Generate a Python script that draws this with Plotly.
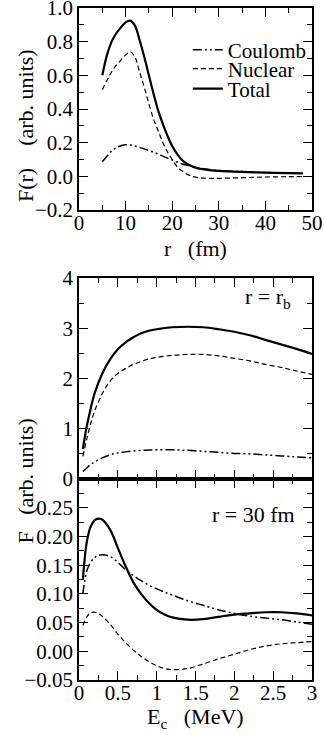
import plotly.graph_objects as go
from plotly.subplots import make_subplots

# panel 1: F(r) against r (fm)
r = [5, 6, 7, 8, 9, 10, 11, 12, 13, 14, 15, 16, 17, 18, 19, 20, 21, 22, 23, 24,
     25, 26, 28, 30, 35, 40, 45, 48]
coul_r = [0.087, 0.12, 0.15, 0.17, 0.182, 0.187, 0.186, 0.18, 0.172, 0.163, 0.153,
          0.143, 0.132, 0.12, 0.108, 0.097, 0.085, 0.075, 0.067, 0.06, 0.053, 0.048,
          0.04, 0.035, 0.028, 0.023, 0.02, 0.018]
nucl_r = [0.515, 0.57, 0.62, 0.66, 0.69, 0.72, 0.74, 0.71, 0.62, 0.53, 0.43, 0.34,
          0.27, 0.20, 0.145, 0.10, 0.06, 0.035, 0.015, 0.003, -0.005, -0.009, -0.012,
          -0.012, -0.008, -0.004, -0.002, -0.001]
tot_r = [0.60, 0.72, 0.80, 0.85, 0.885, 0.915, 0.925, 0.895, 0.81, 0.71, 0.60, 0.49,
         0.39, 0.31, 0.24, 0.18, 0.135, 0.10, 0.078, 0.063, 0.052, 0.045, 0.037,
         0.032, 0.026, 0.022, 0.019, 0.017]

# panel 2: F at r = r_b against E_c (MeV)
ec_b = [0.05, 0.1, 0.15, 0.2, 0.3, 0.4, 0.5, 0.6, 0.7, 0.8, 0.9, 1.0, 1.2, 1.4, 1.6,
        1.8, 2.0, 2.2, 2.4, 2.6, 2.8, 3.0]
coul_b = [0.15, 0.22, 0.29, 0.34, 0.42, 0.48, 0.52, 0.54, 0.56, 0.57, 0.575, 0.58,
          0.58, 0.57, 0.55, 0.53, 0.51, 0.50, 0.48, 0.46, 0.44, 0.42]
nucl_b = [0.45, 0.8, 1.1, 1.35, 1.7, 1.95, 2.1, 2.2, 2.28, 2.34, 2.39, 2.42, 2.46,
          2.48, 2.48, 2.45, 2.40, 2.35, 2.28, 2.22, 2.15, 2.08]
tot_b = [0.6, 1.05, 1.4, 1.7, 2.1, 2.38, 2.58, 2.72, 2.82, 2.9, 2.95, 2.98, 3.02,
         3.03, 3.02, 2.98, 2.93, 2.86, 2.77, 2.68, 2.59, 2.49]

# panel 3: F at r = 30 fm against E_c (MeV)
ec_30 = [0.05, 0.1, 0.15, 0.2, 0.25, 0.3, 0.4, 0.5, 0.6, 0.7, 0.8, 0.9, 1.0, 1.1,
         1.2, 1.4, 1.6, 1.8, 2.0, 2.2, 2.4, 2.6, 2.8, 3.0]
coul_30 = [0.10, 0.14, 0.155, 0.163, 0.167, 0.168, 0.165, 0.155, 0.142, 0.132, 0.123,
           0.115, 0.109, 0.103, 0.098, 0.088, 0.08, 0.072, 0.066, 0.061, 0.058,
           0.055, 0.051, 0.047]
nucl_30 = [0.045, 0.06, 0.067, 0.068, 0.066, 0.061, 0.047, 0.03, 0.015, 0.002, -0.009,
           -0.018, -0.025, -0.03, -0.032, -0.03, -0.022, -0.013, -0.005, 0.003, 0.009,
           0.013, 0.015, 0.017]
tot_30 = [0.125, 0.19, 0.217, 0.228, 0.231, 0.229, 0.212, 0.18, 0.148, 0.12, 0.1,
          0.084, 0.072, 0.064, 0.059, 0.055, 0.056, 0.06, 0.064, 0.066, 0.068, 0.068,
          0.066, 0.0625]

FONT = "Liberation Serif"
coul_line = dict(color="black", width=1.5, dash="9px,3px,2px,3px,2px,3px")
nucl_line = dict(color="black", width=1.2, dash="5px,3px")
tot_line = dict(color="black", width=2.2)

fig = make_subplots(rows=3, cols=1)

panels = [(r, coul_r, nucl_r, tot_r), (ec_b, coul_b, nucl_b, tot_b),
          (ec_30, coul_30, nucl_30, tot_30)]
for i, (x, c, n, t) in enumerate(panels):
    show = i == 0
    fig.add_trace(go.Scatter(x=x, y=c, mode="lines", line=coul_line, name="Coulomb",
                             showlegend=show, legend="legend", line_shape="spline"),
                  row=i + 1, col=1)
    fig.add_trace(go.Scatter(x=x, y=n, mode="lines", line=nucl_line, name="Nuclear",
                             showlegend=show, legend="legend2", line_shape="spline"),
                  row=i + 1, col=1)
    fig.add_trace(go.Scatter(x=x, y=t, mode="lines", line=tot_line, name="Total",
                             showlegend=show, legend="legend3", line_shape="spline"),
                  row=i + 1, col=1)

axis_style = dict(
    showline=True, linecolor="black", linewidth=1.5, mirror="ticks",
    ticks="inside", ticklen=9, tickwidth=1.3, tickcolor="black",
    showgrid=False, zeroline=False, automargin=False, ticklabeloverflow="allow",
    tickfont=dict(family=FONT, size=21, color="black"),
)

fig.update_xaxes(**axis_style, ticklabelstandoff=-7)
fig.update_yaxes(**axis_style)

fig.update_layout(
    xaxis=dict(range=[0, 50], dtick=10, minor=dict(dtick=5, ticklen=5, ticks="inside")),
    yaxis=dict(domain=[0.6994, 1.0], range=[-0.2, 1.0], dtick=0.2, tickformat=".1f",
               minor=dict(dtick=0.1, ticklen=5, ticks="inside")),
    xaxis2=dict(range=[0, 3], dtick=0.5, showticklabels=False, matches="x3",
                minor=dict(dtick=0.25, ticklen=5, ticks="inside")),
    yaxis2=dict(domain=[0.2991, 0.5982], range=[0, 4], dtick=1,
                minor=dict(dtick=0.5, ticklen=5, ticks="inside")),
    xaxis3=dict(range=[0, 3], dtick=0.5,
                minor=dict(dtick=0.25, ticklen=5, ticks="inside")),
    yaxis3=dict(domain=[0, 0.2991], range=[-0.05, 0.3], tickformat=".2f",
                tickvals=[-0.05, 0, 0.05, 0.1, 0.15, 0.2, 0.25],
                minor=dict(dtick=0.025, ticklen=5, ticks="inside")),
)

leg = dict(x=0.467, xanchor="left", yanchor="middle", bgcolor="rgba(0,0,0,0)",
           font=dict(family=FONT, size=21))

fig.update_layout(
    width=325, height=735,
    margin=dict(l=79, r=13, t=8, b=55),
    plot_bgcolor="white", paper_bgcolor="white",
    font=dict(family=FONT, size=22, color="black"),
    legend=dict(leg, y=0.9375),
    legend2=dict(leg, y=0.9092),
    legend3=dict(leg, y=0.8795),
    annotations=[
        dict(text="F(r)\u00a0\u00a0\u00a0\u00a0(arb. units)", textangle=-90, x=-0.292,
             y=0.825, xref="paper", yref="paper", showarrow=False, yanchor="middle"),
        dict(text="F\u00a0\u00a0\u00a0(arb. units)", textangle=-90, x=-0.292, y=0.296,
             xref="paper", yref="paper", showarrow=False, yanchor="middle"),
        dict(text="r\u00a0\u00a0\u00a0(fm)", x=0.5, y=0.6414, xref="paper", yref="paper",
             showarrow=False, yanchor="middle"),
        dict(text="E<sub>c</sub>\u00a0\u00a0\u00a0(MeV)", x=0.5, y=-0.056, xref="paper",
             yref="paper", showarrow=False, yanchor="middle"),
        dict(text="r = r<sub>b</sub>", x=0.918, y=0.592, xref="paper", yref="paper",
             xanchor="right", yanchor="top", showarrow=False),
        dict(text="r = 30 fm", x=0.936, y=0.246, xref="paper", yref="paper",
             xanchor="right", yanchor="middle", showarrow=False),
    ],
)

# the page body has a default 8px margin; drop it so the figure fills the window
fig.write_html("out.html", config={"displayModeBar": False},
               post_script="document.body.style.margin = '0';")
